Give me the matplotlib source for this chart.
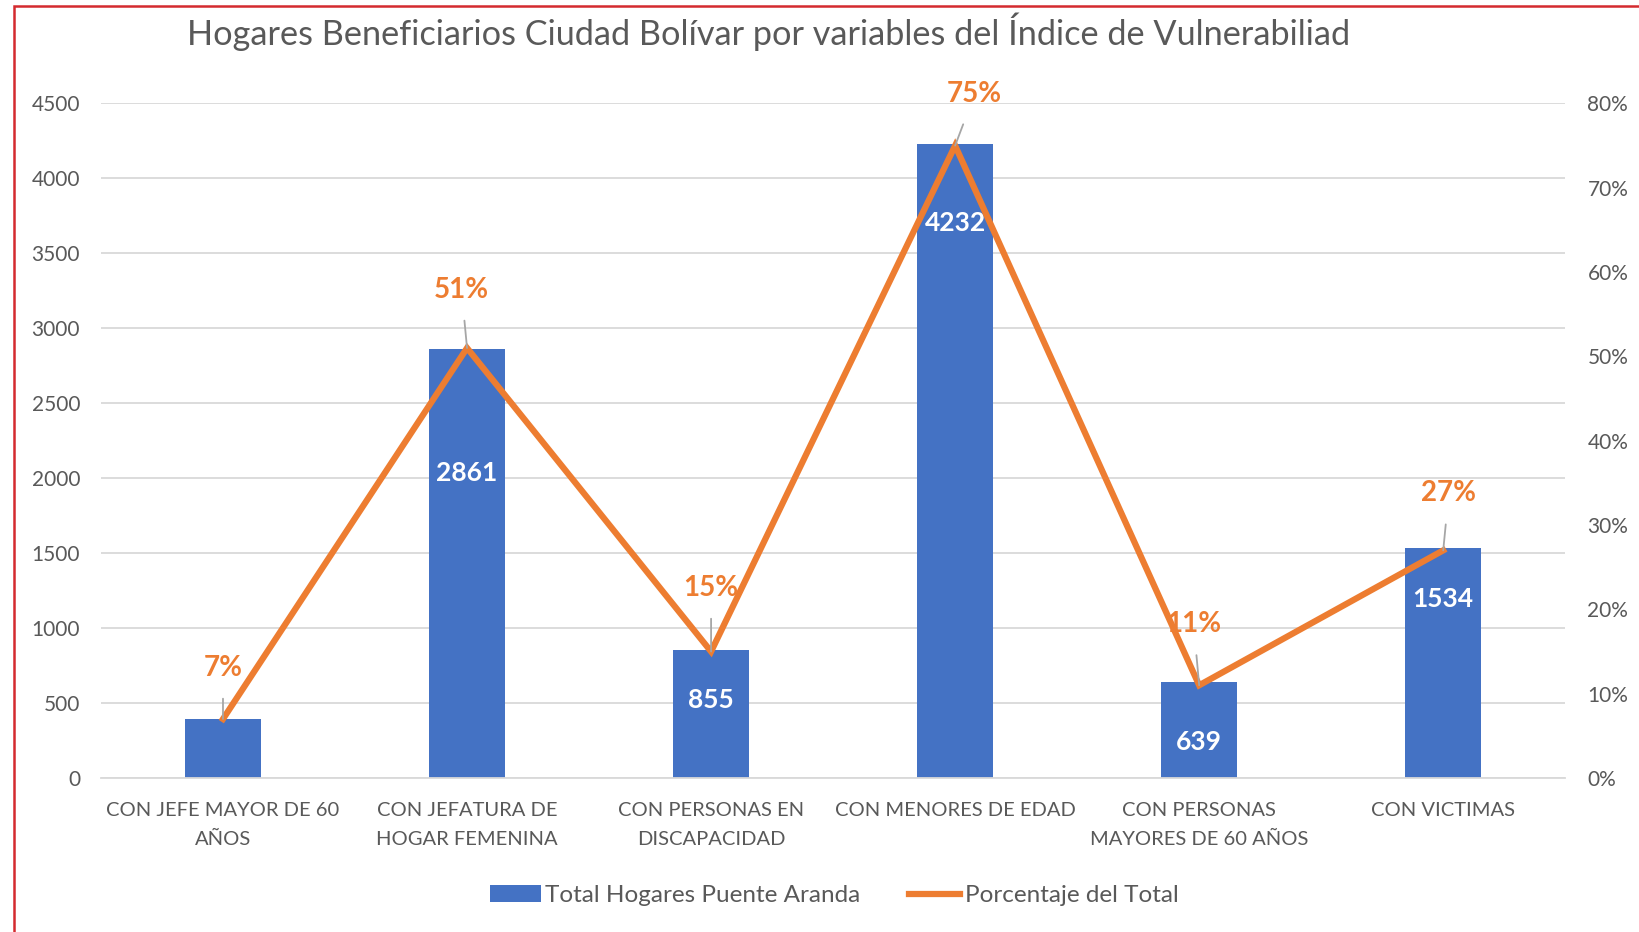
import numpy as np
import matplotlib.pyplot as plt
from matplotlib.patches import Rectangle

plt.rcParams['font.family'] = ['Lato', 'DejaVu Sans']

# datos
categorias = ["CON JEFE MAYOR DE 60\nAÑOS", "CON JEFATURA DE\nHOGAR FEMENINA",
              "CON PERSONAS EN\nDISCAPACIDAD", "CON MENORES DE EDAD",
              "CON PERSONAS\nMAYORES DE 60 AÑOS", "CON VICTIMAS"]
hogares = [394, 2861, 855, 4232, 639, 1534]
porcentaje = [0.07, 0.51, 0.15, 0.75, 0.11, 0.27]

azul = "#4472C4"
naranja = "#ED7D31"
gris = "#595959"

fig = plt.figure(figsize=(16.39, 9.32), dpi=100)
ax = fig.add_axes([0.0616, 0.1652, 0.8934, 0.7238])
ax2 = ax.twinx()

x = np.arange(len(categorias))
ax.bar(x, hogares, width=0.31, color=azul, zorder=2, label="Total Hogares Puente Aranda")
ax.set_ylim(0, 4500)
ax.set_yticks(np.arange(0, 4501, 500))
ax.set_xlim(-0.5, len(categorias) - 0.5)
ax.set_xticks(x)
ax.set_xticklabels(categorias, fontsize=14.5, color=gris, linespacing=1.9)
ax.grid(axis="y", color="#D9D9D9", linewidth=1.3, zorder=0)
ax.set_axisbelow(True)
ax.tick_params(axis="y", labelsize=15, labelcolor=gris, length=0, pad=15)
ax.tick_params(axis="x", length=0, pad=17)
for s in ax.spines.values():
    s.set_visible(False)
ax.spines["bottom"].set_visible(True)
ax.spines["bottom"].set_color("#D9D9D9")
ax.spines["bottom"].set_linewidth(1.3)

# etiquetas de las barras (desplazadas a mano para no chocar con la linea)
desplaz = [None, 89, 36, 57, 43, 37]
for xi, v, d in zip(x, hogares, desplaz):
    if d is None:
        continue
    ax.annotate(str(v), (xi, v), xytext=(0, -d), textcoords="offset points",
                ha="center", va="center", color="white", fontsize=19, fontweight="bold")

ax2.plot(x, porcentaje, color=naranja, linewidth=4.5, zorder=3,
         solid_joinstyle="miter", label="Porcentaje del Total")
ax2.set_ylim(0, 0.8)
ax2.set_yticks(np.arange(0, 0.81, 0.1))
ax2.set_yticklabels([f"{int(round(t*100))}%" for t in np.arange(0, 0.81, 0.1)])
ax2.tick_params(axis="y", labelsize=15, labelcolor=gris, length=0, pad=16)
for s in ax2.spines.values():
    s.set_visible(False)

# etiquetas de porcentaje con linea guia
offs = [(0, 37), (-4, 42), (0, 46), (14, 37), (-4, 44), (4, 41)]
for xi, p, (dx, dy) in zip(x, porcentaje, offs):
    ax2.annotate(f"{int(round(p*100))}%", (xi, p), xytext=(dx, dy), textcoords="offset points",
                 ha="center", va="center", color=naranja, fontsize=20, fontweight="bold",
                 arrowprops=dict(arrowstyle="-", color="#A6A6A6", lw=1.3,
                                 shrinkA=11, shrinkB=0), zorder=4)

fig.text(0.4687, 0.966, "Hogares Beneficiarios Ciudad Bolívar por variables del Índice de Vulnerabiliad",
         ha="center", va="center", fontsize=24.7, color=gris)

h1, l1 = ax.get_legend_handles_labels()
h2, l2 = ax2.get_legend_handles_labels()
fig.legend(h1 + h2, l1 + l2, loc="center", bbox_to_anchor=(0.509, 0.039), ncol=2,
           frameon=False, fontsize=17.5, labelcolor=gris, handlelength=2.1,
           handletextpad=0.2, columnspacing=2.0, handleheight=0.7)

# borde rojo
fig.add_artist(Rectangle((14 / 1639, -0.1), 1.2, 1.1 - 5.5 / 932, transform=fig.transFigure,
                         fill=False, edgecolor="#D42A2F", linewidth=1.8))

fig.savefig("out.png", dpi=100)
